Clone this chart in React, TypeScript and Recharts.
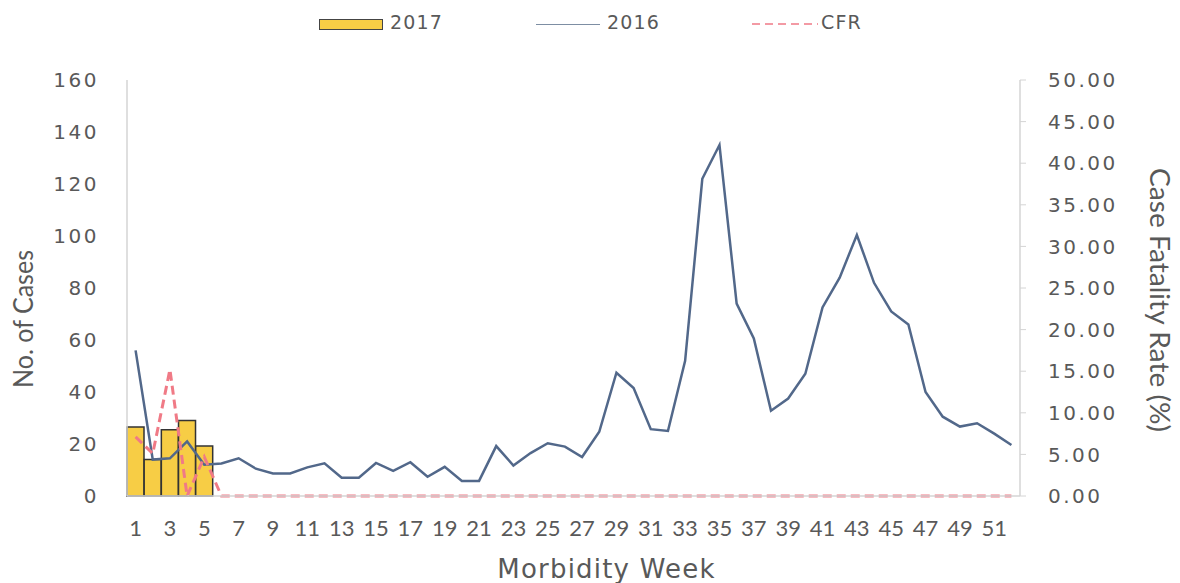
import React from 'react';
import {
  ComposedChart,
  Bar,
  Line,
  XAxis,
  YAxis,
  Label,
} from 'recharts';

// morbidity weeks 1..52
const weeks: string[] = Array.from({ length: 52 }, (_, i) => String(i + 1));

// 2017 cases (only first 5 weeks reported)
const cases2017: number[] = [26.5, 14, 25.5, 29, 19.2];

// 2016 cases by week
const cases2016: number[] = [
  56, 14, 14.5, 21, 12, 12.5, 14.5, 10.5, 8.7, 8.7,
  11, 12.6, 7, 7, 12.7, 9.7, 13, 7.4, 11.2, 5.8,
  5.8, 19.2, 11.7, 16.5, 20.3, 19, 15, 24.7, 47.4, 41.5,
  25.7, 25, 52, 122, 135, 74, 60.6, 32.8, 37.5, 47,
  72.5, 84, 100.4, 82, 71, 66, 40, 30.5, 26.7, 28,
  24, 19.6,
];

// case fatality rate (%)
const cfr: number[] = [
  7.1, 5.1, 15.2, 0, 4.7, 0, 0, 0, 0, 0,
  0, 0, 0, 0, 0, 0, 0, 0, 0, 0,
  0, 0, 0, 0, 0, 0, 0, 0, 0, 0,
  0, 0, 0, 0, 0, 0, 0, 0, 0, 0,
  0, 0, 0, 0, 0, 0, 0, 0, 0, 0,
  0, 0,
];

const casesTicks = [0, 20, 40, 60, 80, 100, 120, 140, 160];
const cfrTicks = [0, 5, 10, 15, 20, 25, 30, 35, 40, 45, 50];

const data = weeks.map((week, i) => ({
  week,
  y2017: i < cases2017.length ? cases2017[i] : null,
  y2016: cases2016[i],
  cfr: cfr[i],
}));

const TEXT = '#595959';
const AXIS = '#d4d4d4';
const WIDE_FONT = '"DejaVu Sans", Verdana, sans-serif';
const NARROW_FONT = 'Lato, "Liberation Sans", sans-serif';

const tickStyle = { fontSize: 20, fill: TEXT, fontFamily: WIDE_FONT, letterSpacing: 2.5 };

const ChartLegend = () => (
  <div style={{ position: 'absolute', left: 0, top: 0, width: 1180, height: 50, fontFamily: WIDE_FONT, fontSize: 19, color: TEXT, letterSpacing: 1.2 }}>
    <div style={{ position: 'absolute', left: 319, top: 19, width: 62, height: 9, background: '#f7cd45', border: '1.5px solid #444' }} />
    <span style={{ position: 'absolute', left: 390, top: 11 }}>2017</span>
    <div style={{ position: 'absolute', left: 536, top: 24, width: 64, height: 0, borderTop: '1.5px solid #7d8ea3' }} />
    <span style={{ position: 'absolute', left: 607, top: 11 }}>2016</span>
    <svg style={{ position: 'absolute', left: 752, top: 20 }} width={66} height={8}>
      <line x1={0} y1={4} x2={66} y2={4} stroke="#f07a86" strokeWidth={1.5} strokeDasharray="8 5" />
    </svg>
    <span style={{ position: 'absolute', left: 821, top: 11 }}>CFR</span>
  </div>
);

export default function App() {
  return (
    <div style={{ position: 'absolute', left: 0, top: 0, width: 1180, height: 583, background: '#fff' }}>
      <ChartLegend />
      <ComposedChart
        width={1180}
        height={583}
        data={data}
        margin={{ top: 80, right: 0, left: 0, bottom: 0 }}
        barCategoryGap={0}
      >
        <XAxis
          dataKey="week"
          interval={1}
          height={87}
          tickLine={false}
          axisLine={{ stroke: AXIS, strokeWidth: 1.5 }}
          tickMargin={18}
          tick={{ fontSize: 22, fill: TEXT, fontFamily: NARROW_FONT }}
        >
          <Label
            content={({ viewBox }: any) => (
              <text
                x={viewBox.x + viewBox.width / 2 + 33}
                y={viewBox.y + 82}
                textAnchor="middle"
                fill={TEXT}
                fontSize={26}
                letterSpacing={1.2}
                fontFamily={WIDE_FONT}
              >
                Morbidity Week
              </text>
            )}
          />
        </XAxis>
        <YAxis
          yAxisId="cases"
          orientation="left"
          width={127}
          domain={[0, 160]}
          ticks={casesTicks}
          tickLine={false}
          axisLine={{ stroke: AXIS, strokeWidth: 1.5 }}
          tickMargin={22}
          tick={tickStyle}
        >
          <Label
            content={({ viewBox }: any) => {
              const cx = viewBox.x + 22;
              const cy = viewBox.y + viewBox.height / 2 + 31;
              return (
                <text
                  x={cx}
                  y={cy}
                  transform={`rotate(-90 ${cx} ${cy})`}
                  textAnchor="middle"
                  dominantBaseline="central"
                  fill={TEXT}
                  fontSize={27}
                  textLength={138}
                  lengthAdjust="spacingAndGlyphs"
                  fontFamily={NARROW_FONT}
                >
                  No. of Cases
                </text>
              );
            }}
          />
        </YAxis>
        <YAxis
          yAxisId="cfr"
          orientation="right"
          width={160}
          domain={[0, 50]}
          ticks={cfrTicks}
          tickFormatter={(v: number) => v.toFixed(2)}
          tickLine={{ stroke: AXIS }}
          axisLine={{ stroke: AXIS, strokeWidth: 1.5 }}
          tickMargin={22}
          tick={tickStyle}
        >
          <Label
            content={({ viewBox }: any) => {
              const cx = viewBox.x + 140;
              const cy = viewBox.y + viewBox.height / 2 + 12;
              return (
                <text
                  x={cx}
                  y={cy}
                  transform={`rotate(90 ${cx} ${cy})`}
                  textAnchor="middle"
                  dominantBaseline="central"
                  fill={TEXT}
                  fontSize={27}
                  textLength={264}
                  lengthAdjust="spacingAndGlyphs"
                  fontFamily={NARROW_FONT}
                >
                  Case Fatality Rate (%)
                </text>
              );
            }}
          />
        </YAxis>

        {/* 2017 bars */}
        <Bar
          yAxisId="cases"
          dataKey="y2017"
          fill="#f7cd45"
          stroke="#333"
          strokeWidth={1.5}
          isAnimationActive={false}
        />

        {/* 2016 line */}
        <Line
          yAxisId="cases"
          type="linear"
          dataKey="y2016"
          stroke="#52688a"
          strokeWidth={2.5}
          dot={false}
          activeDot={false}
          isAnimationActive={false}
        />

        {/* CFR dashed line */}
        <Line
          yAxisId="cfr"
          type="linear"
          dataKey="cfr"
          stroke="#f07a86"
          strokeWidth={3}
          strokeDasharray="9 5"
          dot={false}
          activeDot={false}
          isAnimationActive={false}
        />
      </ComposedChart>
    </div>
  );
}
